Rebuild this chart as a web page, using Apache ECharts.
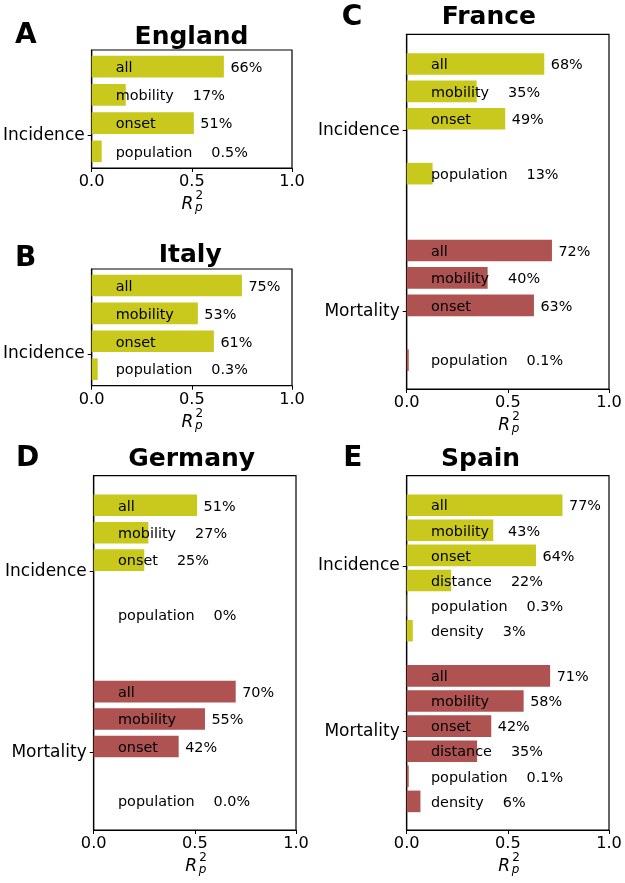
<!DOCTYPE html>
<html><head><meta charset="utf-8">
<script src="https://cdn.jsdelivr.net/npm/echarts@6/dist/echarts.min.js"></script>
<style>html,body{margin:0;padding:0;background:#fff}#c{width:625px;height:883px}</style>
</head><body><div id="c"></div>
<script>
// ---------------- DATA ----------------
const factorsShort = ['all', 'mobility', 'onset', 'population'];
const factorsFull = ['all', 'mobility', 'onset', 'distance', 'population', 'density'];
const groupNames = ['Incidence', 'Mortality'];
const xTickLabels = ['0.0', '0.5', '1.0'];

const englandIncidence = [0.66, 0.17, 0.51, 0.05];
const englandIncidenceLabels = ['66%', '17%', '51%', '0.5%'];

const italyIncidence = [0.75, 0.53, 0.61, 0.03];
const italyIncidenceLabels = ['75%', '53%', '61%', '0.3%'];

const franceIncidence = [0.68, 0.346, 0.487, null, 0.128, null];
const franceIncidenceLabels = ['68%', '35%', '49%', null, '13%', null];
const franceMortality = [0.718, 0.40, 0.629, null, 0.01, null];
const franceMortalityLabels = ['72%', '40%', '63%', null, '0.1%', null];

const germanyIncidence = [0.511, 0.27, 0.25, null, 0, null];
const germanyIncidenceLabels = ['51%', '27%', '25%', null, '0%', null];
const germanyMortality = [0.702, 0.55, 0.42, null, 0, null];
const germanyMortalityLabels = ['70%', '55%', '42%', null, '0.0%', null];

const spainIncidence = [0.77, 0.428, 0.639, 0.22, 0.002, 0.03];
const spainIncidenceLabels = ['77%', '43%', '64%', '22%', '0.3%', '3%'];
const spainMortality = [0.709, 0.578, 0.418, 0.348, 0.01, 0.068];
const spainMortalityLabels = ['71%', '58%', '42%', '35%', '0.1%', '6%'];

// ---------------- STYLE / LAYOUT ----------------
const FONT = '"DejaVu Sans", sans-serif';
const COLORS = ['#c9c81c', '#ae5252'];
const BAR_H = 21.6;
const NAME_X = 0.12;
const NAME_SIZE = 14.4;
const GROUP_OFFSET = 6.8;

const panels = [
  { letter: 'A', title: 'England', grid: { left: 90, top: 50, width: 202, height: 118 },
    yMin: -0.59, yMax: 3.59, factors: factorsShort, ticks: [2.44],
    groups: [[englandIncidence, englandIncidenceLabels]],
    titleX: 191.5, titleAlign: 'center', titleY: 35.8, letterX: 15, letterY: 33.8 },
  { letter: 'B', title: 'Italy', grid: { left: 90, top: 269, width: 202, height: 116.7 },
    yMin: -0.59, yMax: 3.59, factors: factorsShort, ticks: [2.45],
    groups: [[italyIncidence, italyIncidenceLabels]],
    titleX: 190.2, titleAlign: 'center', titleY: 254.2, letterX: 15, letterY: 257.7 },
  { letter: 'C', title: 'France', grid: { left: 406.7, top: 34.3, width: 202.3, height: 354.7 },
    yMin: -1.08, yMax: 11.85, factors: factorsFull, ticks: [2.42, 9.02],
    groups: [[franceIncidence, franceIncidenceLabels], [franceMortality, franceMortalityLabels]],
    titleX: 441.7, titleAlign: 'left', titleY: 16.2, letterX: 341.7, letterY: 16 },
  { letter: 'D', title: 'Germany', grid: { left: 93.7, top: 475.7, width: 202.3, height: 354.3 },
    yMin: -1.08, yMax: 11.85, factors: factorsFull, ticks: [2.42, 9.02],
    groups: [[germanyIncidence, germanyIncidenceLabels], [germanyMortality, germanyMortalityLabels]],
    titleX: 191.7, titleAlign: 'center', titleY: 457.5, letterX: 16, letterY: 457 },
  { letter: 'E', title: 'Spain', grid: { left: 406.7, top: 475.7, width: 202.3, height: 354.3 },
    yMin: -1.175, yMax: 12.94, factors: factorsFull, ticks: [2.42, 9.02],
    groups: [[spainIncidence, spainIncidenceLabels], [spainMortality, spainMortalityLabels]],
    titleX: 441, titleAlign: 'left', titleY: 457.5, letterX: 343.3, letterY: 457 }
];

const measureCtx = document.createElement('canvas').getContext('2d');
function textWidth(t, size) {
  measureCtx.font = size + 'px ' + FONT;
  return measureCtx.measureText(t).width;
}

const grids = [], xAxes = [], yAxes = [], series = [], graphics = [];

panels.forEach((p, pi) => {
  grids.push(Object.assign({ show: true, borderColor: '#000', borderWidth: 1.2, backgroundColor: 'transparent' }, p.grid));
  xAxes.push({
    type: 'value', gridIndex: pi, min: 0, max: 1, interval: 0.5, position: 'bottom',
    axisLine: { show: true, onZero: false, lineStyle: { color: '#000', width: 1.2 } },
    axisTick: { show: true, length: 4, lineStyle: { color: '#000', width: 1 } },
    axisLabel: { fontFamily: FONT, fontSize: 16.2, color: '#000', margin: 6,
      formatter: v => xTickLabels[Math.round(v * 2)] },
    splitLine: { show: false }
  });
  yAxes.push({
    type: 'value', gridIndex: pi, inverse: true, min: p.yMin, max: p.yMax, position: 'left',
    axisLine: { show: true, onZero: false, lineStyle: { color: '#000', width: 1.2 } },
    axisTick: { show: true, length: 4, customValues: p.ticks, lineStyle: { color: '#000', width: 1 } },
    axisLabel: { fontFamily: FONT, fontSize: 17, color: '#000', margin: 7, customValues: p.ticks,
      formatter: v => groupNames[p.ticks.indexOf(v)] },
    splitLine: { show: false }
  });
  p.groups.forEach((g, gi) => {
    const vals = g[0], labels = g[1];
    const items = [];
    vals.forEach((v, fi) => {
      if (v === null) return;
      items.push({ value: [v, gi * GROUP_OFFSET + fi], name: p.factors[fi], pct: labels[fi] });
    });
    series.push({
      type: 'custom', xAxisIndex: pi, yAxisIndex: pi, clip: false,
      data: items,
      renderItem: function (params, api) {
        const it = items[params.dataIndex];
        const v = api.value(0), pos = api.value(1);
        const p0 = api.coord([0, pos]);
        const p1 = api.coord([v, pos]);
        const pn = api.coord([NAME_X, pos]);
        const nameW = textWidth(it.name, NAME_SIZE);
        const pctX = Math.max(p1[0] + 6.5, pn[0] + nameW + 19);
        const ty = p0[1] + 1.5;
        return {
          type: 'group',
          children: [
            { type: 'rect', shape: { x: p0[0], y: p0[1] - BAR_H / 2, width: Math.max(0, p1[0] - p0[0]), height: BAR_H },
              style: { fill: COLORS[gi] } },
            { type: 'text', style: { text: it.name, x: pn[0], y: ty, fill: '#000', fontFamily: FONT, fontSize: NAME_SIZE, align: 'left', verticalAlign: 'middle' } },
            { type: 'text', style: { text: it.pct, x: pctX, y: ty, fill: '#000', fontFamily: FONT, fontSize: NAME_SIZE, align: 'left', verticalAlign: 'middle' } }
          ]
        };
      }
    });
  });
  // titles and panel letters
  graphics.push({ type: 'text', x: p.titleX, y: p.titleY + 1.5, style: { text: p.title, fill: '#000', fontFamily: FONT, fontWeight: 'bold', fontSize: 25, align: p.titleAlign, verticalAlign: 'middle' } });
  graphics.push({ type: 'text', x: p.letterX, y: p.letterY + 1.5, style: { text: p.letter, fill: '#000', fontFamily: FONT, fontWeight: 'bold', fontSize: 28, align: 'left', verticalAlign: 'middle' } });
  // x axis name R_p^2
  const cx = p.grid.left + p.grid.width / 2;
  const bottom = p.grid.top + p.grid.height;
  graphics.push({ type: 'text', x: cx - 9.5, y: bottom + 36.5, style: { text: 'R', fill: '#000', fontFamily: FONT, fontStyle: 'italic', fontSize: 17, align: 'left', verticalAlign: 'middle' } });
  graphics.push({ type: 'text', x: cx + 4.5, y: bottom + 28, style: { text: '2', fill: '#000', fontFamily: FONT, fontSize: 12, align: 'left', verticalAlign: 'middle' } });
  graphics.push({ type: 'text', x: cx + 4, y: bottom + 40, style: { text: 'p', fill: '#000', fontFamily: FONT, fontStyle: 'italic', fontSize: 12, align: 'left', verticalAlign: 'middle' } });
});

const chart = echarts.init(document.getElementById('c'), null, { renderer: 'canvas' });
chart.setOption({
  animation: false,
  backgroundColor: '#fff',
  grid: grids, xAxis: xAxes, yAxis: yAxes, series: series,
  graphic: graphics
});
</script>
</body></html>
